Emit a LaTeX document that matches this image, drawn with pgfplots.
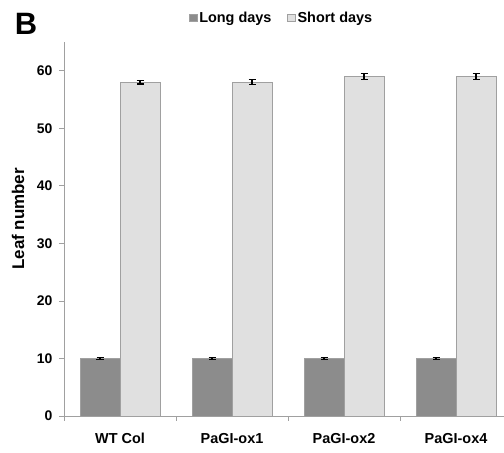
\documentclass[border=0pt]{standalone}
\usepackage{fontspec}
\setmainfont{Liberation Sans}
\usepackage{pgfplots}
\pgfplotsset{compat=1.18}
\definecolor{darkbar}{HTML}{8C8C8C}
\definecolor{lightbar}{HTML}{E0E0E0}
\definecolor{edgegray}{HTML}{A0A0A0}
\begin{document}
\begin{tikzpicture}[x=1bp,y=1bp]
\begin{axis}[
  at={(0,0)}, anchor=south west,
  scale only axis, width=440bp, height=374bp,
  xmin=-0.5, xmax=3.4286, ymin=0, ymax=65,
  axis x line=bottom, axis y line=left,
  axis line style={draw=edgegray, line width=0.8pt, -},
  ybar=0pt, bar width=40bp,
  xtick={0,1,2,3},
  xticklabels={WT Col, PaGI-ox1, PaGI-ox2, PaGI-ox4},
  minor xtick={-0.5,0.5,1.5,2.5},
  ytick={0,10,20,30,40,50,60},
  tick align=outside,
  major x tick style={draw=none},
  minor x tick style={draw=edgegray, line width=0.8pt},
  minor tick length=5bp,
  major y tick style={draw=edgegray, line width=0.8pt},
  major tick length=5bp,
  /pgf/number format/assume math mode=true,
  ticklabel style={font=\bfseries\fontsize{14}{16}\selectfont},
  xticklabel style={font=\bfseries\fontsize{14.5}{16}\selectfont, yshift=-9bp},
  yticklabel style={xshift=-3bp},
  ylabel={Leaf number},
  every axis y label/.style={at={(-46bp,0.527)}, rotate=90, anchor=center,
    font=\bfseries\fontsize{17}{19}\selectfont},
  legend columns=2,
  legend style={draw=none, fill=none, at={(0.284,1.065)}, anchor=west,
    font=\bfseries\fontsize{14.5}{16}\selectfont,
    /tikz/every even column/.append style={column sep=14bp},
    inner sep=0pt},
  legend image code/.code={\draw[#1, draw=edgegray, line width=0.5pt] (0bp,-3.8bp) rectangle (7.6bp,3.8bp);},
  clip=false,
]
\addplot[fill=darkbar, draw=edgegray, line width=0.8pt,
  error bars/.cd, y dir=both, y explicit,
  error bar style={black, line width=1.1pt}, error mark options={black, mark size=3.5bp, line width=1.1pt, rotate=90}]
  coordinates {(0,10.0) +- (0,0.2) (1,10.0) +- (0,0.2) (2,10.0) +- (0,0.2) (3,10.0) +- (0,0.2)};
\addplot[fill=lightbar, draw=edgegray, line width=0.8pt,
  error bars/.cd, y dir=both, y explicit,
  error bar style={black, line width=1.1pt}, error mark options={black, mark size=3.5bp, line width=1.1pt, rotate=90}]
  coordinates {(0,58.0) +- (0,0.3) (1,58.0) +- (0,0.45) (2,59.0) +- (0,0.55) (3,59.0) +- (0,0.55)};
\legend{Long days, Short days}
\end{axis}
\node[font=\bfseries\fontsize{31}{33}\selectfont, anchor=center] at (-38,392) {B};
\pgfresetboundingbox
\useasboundingbox (-64,-37) rectangle (440,416);
\end{tikzpicture}
\end{document}
